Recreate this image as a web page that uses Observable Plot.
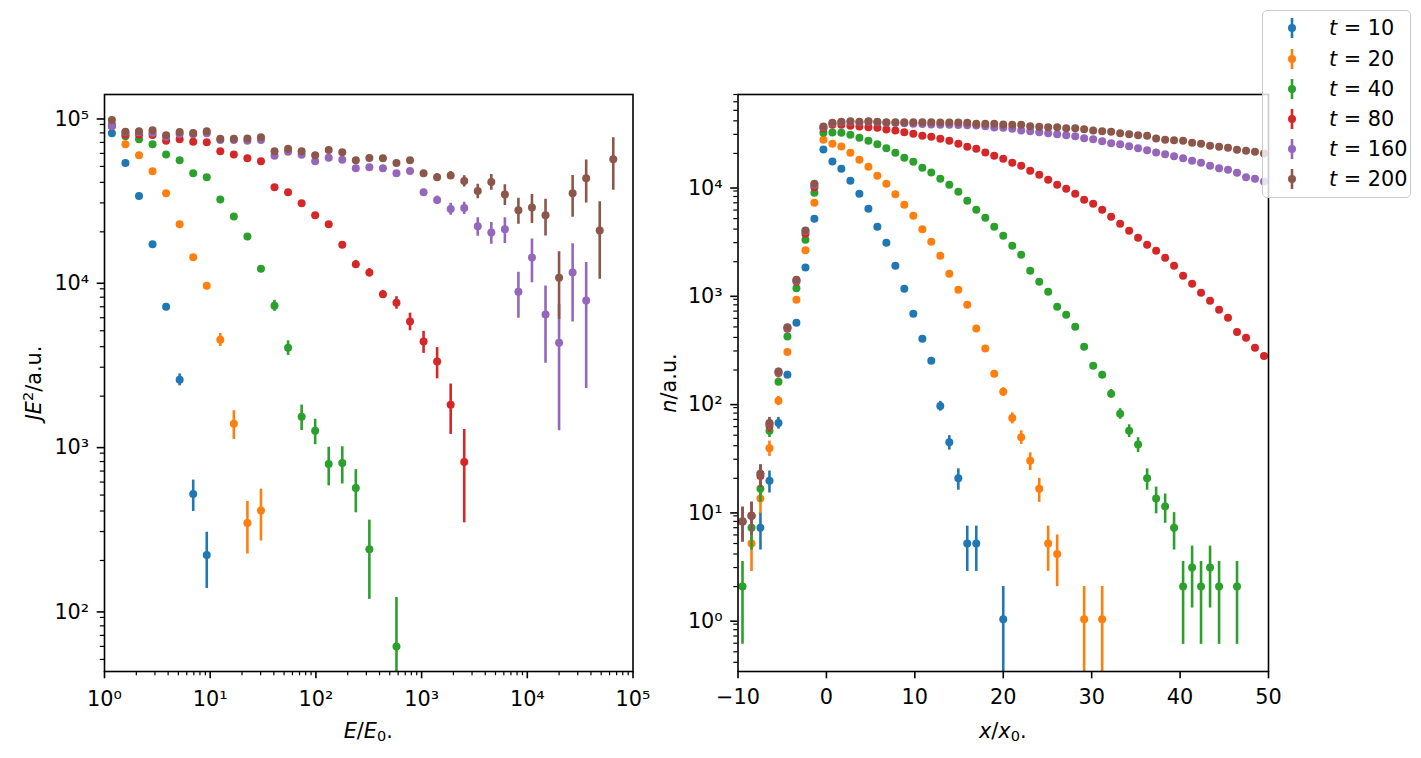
<!DOCTYPE html>
<html><head><meta charset="utf-8">
<script src="https://cdn.jsdelivr.net/npm/d3@7"></script>
<script src="https://cdn.jsdelivr.net/npm/@observablehq/plot@0.6"></script>
<style>
body{margin:0;background:#fff;}
#fig{position:relative;width:1421px;height:758px;font-family:"DejaVu Sans",sans-serif;color:#000;overflow:hidden;background:#fff;}
#fig svg.panel{position:absolute;top:0;}
.lab{position:absolute;font-size:20.8px;white-space:nowrap;line-height:1;transform:translate(-50%,-50%);}
.lab.rot{transform:translate(-50%,-50%) rotate(-90deg);}
.lab sup{font-size:0.7em;vertical-align:0.5em;line-height:0;}
.lab sub{font-size:0.7em;vertical-align:-0.25em;line-height:0;}
.legend{position:absolute;left:1262px;top:10px;width:149px;height:188px;box-sizing:border-box;border:1.4px solid #cccccc;border-radius:5px;background:rgba(255,255,255,0.8);}
.legrow{position:absolute;left:0;height:30px;display:flex;align-items:center;font-size:20.8px;white-space:nowrap;}
.legrow svg{position:absolute;left:19px;top:4px;}
.legrow span{position:absolute;left:66px;}
</style></head>
<body><div id="fig"></div>
<script>
// ---------- series ----------
const times = [10, 20, 40, 80, 160, 200];
const colors = ["#1f77b4", "#ff7f0e", "#2ca02c", "#d62728", "#9467bd", "#8c564b"];

// ---------- left panel: J E^2 vs E/E0 (log bins) ----------
const E = [1.175, 1.578, 2.121, 2.848, 3.826, 5.14, 6.906, 9.278, 12.46, 16.74, 22.49, 30.22, 40.6, 54.54, 73.27, 98.4, 132.2, 177.6, 238.6, 320.5, 430.5, 578.4, 777, 1044, 1402, 1884, 2531, 3400, 4567, 6136, 8241, 11070, 14875, 19980, 26840, 36060, 48440, 65070];

const jeT10 = [79600, 52400, 33000, 16800, 7010, 2520, 507, 216];
const errT10 = [2400, 1600, 1000, 500, 210, 210, 110, 81];

const jeT20 = [88100, 68200, 58400, 46700, 34300, 22200, 14000, 9410, 4410, 1360, 338, 403];
const errT20 = [2600, 2000, 1750, 1400, 1000, 670, 420, 330, 400, 270, 119, 140];

const jeT40 = [90000, 76300, 73100, 68200, 59200, 54500, 45400, 42900, 31500, 24800, 18700, 11900, 7110, 3940, 1500, 1230, 773, 784, 552, 234, null, 60];
const errT40 = [2700, 2300, 2200, 2000, 1800, 1600, 1400, 1300, 950, 750, 560, 450, 550, 400, 265, 217, 204, 200, 162, 118, null, 59];

const jeT80 = [88000, 78000, 78000, 77600, 71700, 73100, 70600, 70100, 61800, 59200, 56000, 53700, 37300, 34800, 29800, 25200, 22200, 16700, 12700, 11300, 8330, 7410, 5700, 4300, 3250, 1770, 796];
const errT80 = [2600, 2300, 2300, 2300, 2150, 2200, 2100, 2100, 1850, 1800, 1700, 1600, 1100, 1050, 900, 760, 670, 600, 700, 650, 480, 650, 700, 660, 700, 600, 457];

const jeT160 = [88000, 80700, 80700, 80200, 75800, 78800, 78400, 79600, 72400, 72400, 71700, 72400, 58100, 61400, 58900, 53700, 56500, 54900, 48700, 49400, 48700, 45400, 46900, 34800, 31200, 27500, 27900, 21600, 19800, 20700, 8650, 13950, 6270, 4230, 11300, 7630];
const errT160 = [2600, 2400, 2400, 2400, 2300, 2400, 2350, 2400, 2200, 2200, 2150, 2200, 1750, 1850, 1800, 1600, 1700, 1650, 1500, 1500, 1500, 1400, 1450, 1500, 1800, 2300, 2400, 2800, 3000, 3700, 2700, 4150, 3100, 3000, 5640, 5400];

const jeT200 = [95900, 81400, 81800, 83000, 77300, 81000, 79900, 81800, 73800, 73600, 74000, 75200, 61800, 64100, 61800, 58400, 62900, 60900, 54500, 56200, 56000, 52400, 54500, 45400, 42900, 44100, 40700, 35400, 40200, 33800, 27100, 28100, 25200, 10500, 34300, 42300, 20400, 55200];
const errT200 = [2900, 2400, 2450, 2500, 2300, 2400, 2400, 2450, 2200, 2200, 2200, 2250, 1850, 1900, 1850, 1750, 1900, 1800, 1650, 1700, 1700, 1600, 1650, 1500, 2400, 2400, 3200, 3600, 4400, 4900, 4900, 5650, 6330, 4650, 9800, 12400, 10100, 19450];

// ---------- right panel: n vs x/x0 (counts, Poisson errors) ----------
const X = [-9.49, -8.47, -7.46, -6.44, -5.42, -4.41, -3.39, -2.37, -1.36, -0.34, 0.68, 1.69, 2.71, 3.73, 4.75, 5.76, 6.78, 7.80, 8.81, 9.83, 10.85, 11.86, 12.88, 13.90, 14.92, 15.93, 16.95, 17.97, 18.98, 20.00, 21.02, 22.03, 23.05, 24.07, 25.08, 26.10, 27.12, 28.14, 29.15, 30.17, 31.19, 32.20, 33.22, 34.24, 35.25, 36.27, 37.29, 38.31, 39.32, 40.34, 41.36, 42.37, 43.39, 44.41, 45.42, 46.44, 47.46, 48.47, 49.49];

const nT10 = [null, null, 7, 19, 65, 181, 546, 1768, 4980, 21730, 16840, 14410, 11170, 8470, 6160, 4200, 2990, 1834, 1124, 660, 388, 243, 93, 43, 20, 5, 5, null, null, 1];
const nT20 = [null, 5, 13, 38, 104, 294, 889, 2554, 7000, 26700, 24530, 23150, 20260, 17450, 15040, 12420, 10480, 8400, 6705, 5306, 3991, 3053, 2268, 1546, 1100, 800, 483, 316, 185, 126, 72, 48, 29, 16, 5, 4, null, null, 1, null, 1];
const nT40 = [2, 7, 16, 55, 156, 408, 1138, 3186, 8655, 31000, 31200, 31000, 29700, 27860, 26150, 24320, 22340, 20260, 18210, 16730, 14730, 13330, 11660, 10260, 8838, 7300, 6029, 5086, 4200, 3469, 2804, 2316, 1648, 1305, 1055, 767, 647, 501, 328, 219, 181, 121, 79, 55, 41, 20, 13, 11, 7, 2, 3, 2, 3, 2, null, 2];
const nT80 = [8, 9, 21, 61, 188, 480, 1310, 3620, 9750, 34200, 36700, 36700, 36000, 35400, 34900, 34450, 33240, 32540, 31390, 30340, 29080, 28470, 27280, 26150, 24530, 23010, 22050, 20390, 19010, 17830, 16380, 15370, 13810, 12690, 11410, 10260, 9422, 8472, 7458, 6849, 6029, 5196, 4477, 3858, 3324, 2865, 2521, 2173, 1834, 1482, 1250, 1033, 871, 719, 607, 450, 397, 321, 270];
const nT160 = [8, 9, 22, 64, 192, 490, 1340, 3850, 10300, 35000, 38000, 38800, 39200, 38900, 39200, 38700, 38300, 38100, 37900, 37600, 37300, 37000, 36800, 36700, 36600, 36400, 36200, 35650, 34700, 34450, 33730, 32540, 32060, 31390, 30730, 30090, 29440, 28840, 27630, 27050, 25930, 24850, 24320, 23310, 22340, 21410, 20390, 19670, 18850, 18060, 17090, 16380, 15370, 14600, 14110, 13240, 12060, 11660, 11000];
const nT200 = [8, 9, 22, 65, 194, 497, 1361, 3882, 10480, 35400, 38340, 39150, 39630, 39150, 39630, 39150, 38900, 38750, 38820, 38700, 38850, 38780, 38580, 38580, 38580, 38340, 37500, 37500, 37500, 36980, 36730, 36730, 35650, 35200, 34910, 34910, 34200, 34200, 33460, 32540, 32060, 31650, 30730, 30090, 29440, 29080, 27460, 26710, 26480, 26150, 25060, 24530, 23510, 23010, 22530, 21600, 21140, 20690, 19960];

// ---------- tick labels ----------
const leftXTicks = [1, 10, 100, 1000, 10000, 100000];
const leftYTicks = [100, 1000, 10000, 100000];
const rightXTicks = [-10, 0, 10, 20, 30, 40, 50];
const rightYTicks = [1, 10, 100, 1000, 10000];
const supDigits = {"0": "⁰", "1": "¹", "2": "²", "3": "³", "4": "⁴", "5": "⁵"};

const leftVals = [jeT10, jeT20, jeT40, jeT80, jeT160, jeT200];
const leftErrs = [errT10, errT20, errT40, errT80, errT160, errT200];
const rightVals = [nT10, nT20, nT40, nT80, nT160, nT200];

const pow10 = d => "10" + supDigits[String(Math.round(Math.log10(d)))];
const minus = d => d < 0 ? "\u2212" + Math.abs(d) : String(d);
function logMinors(lo, hi) {
  const out = [];
  for (let e = Math.floor(Math.log10(lo)); e <= Math.ceil(Math.log10(hi)); e++)
    for (let m = 2; m <= 9; m++) { const v = m * Math.pow(10, e); if (v >= lo && v <= hi) out.push(v); }
  return out;
}

const FS = 20.8, TICK = 7.3, MINOR = 4.2;
const fig = document.getElementById("fig");
const style = {fontFamily: "DejaVu Sans", fontSize: FS + "px", color: "black", background: "transparent", overflow: "visible"};

function seriesMarks(xs, vals, errs) {
  const marks = [];
  vals.forEach((v, i) => {
    const rows = [];
    v.forEach((y, k) => { if (y != null) rows.push({x: xs[k], y, e: errs ? errs[i][k] : Math.sqrt(y)}); });
    marks.push(Plot.ruleX(rows, {x: "x", y1: d => Math.max(d.y - d.e, 1e-3), y2: d => d.y + d.e, stroke: colors[i], strokeWidth: 2.6, clip: true}));
    marks.push(Plot.dot(rows, {x: "x", y: "y", r: 4, fill: colors[i], stroke: "none", clip: true}));
  });
  return marks;
}

// ---- Left panel ----
const L = {w: 660, left: 104, right: 632.5, top: 94, bottom: 671};
const leftYDomain = [42.2, 137000];
const leftPlot = Plot.plot({
  width: L.w, height: 758,
  marginLeft: L.left, marginRight: L.w - L.right, marginTop: L.top, marginBottom: 758 - L.bottom,
  style,
  x: {type: "log", domain: [1, 1e5], axis: null},
  y: {type: "log", domain: leftYDomain, axis: null},
  marks: [
    ...seriesMarks(E, leftVals, leftErrs),
    Plot.axisX(logMinors(1, 1e5), {anchor: "bottom", tickSize: MINOR, strokeWidth: 1.2, tickFormat: () => "", label: null}),
    Plot.axisX(leftXTicks, {anchor: "bottom", tickSize: TICK, strokeWidth: 1.6, tickPadding: 12.9, tickFormat: pow10, fontSize: FS, label: null}),
    Plot.axisY(logMinors(leftYDomain[0], leftYDomain[1]), {anchor: "left", tickSize: MINOR, strokeWidth: 1.2, tickFormat: () => "", label: null}),
    Plot.axisY(leftYTicks, {anchor: "left", tickSize: TICK, strokeWidth: 1.6, tickPadding: 8, dy: 2, tickFormat: pow10, fontSize: FS, label: null}),
    Plot.frame({stroke: "black", strokeWidth: 1.6})
  ]
});
leftPlot.classList.add("panel");
leftPlot.style.left = "0px";
fig.appendChild(leftPlot);

// ---- Right panel ----
const R = {x0: 680, w: 620, left: 737.5, right: 1268, top: 94, bottom: 671};
const rightYDomain = [0.329, 70000];
const rightPlot = Plot.plot({
  width: R.w, height: 758,
  marginLeft: R.left - R.x0, marginRight: R.x0 + R.w - R.right, marginTop: R.top, marginBottom: 758 - R.bottom,
  style,
  x: {type: "linear", domain: [-10, 50], axis: null},
  y: {type: "log", domain: rightYDomain, axis: null},
  marks: [
    ...seriesMarks(X, rightVals, null),
    Plot.axisX(rightXTicks, {anchor: "bottom", tickSize: TICK, strokeWidth: 1.6, tickPadding: 10.2, tickFormat: minus, fontSize: FS, label: null}),
    Plot.axisY(logMinors(rightYDomain[0], rightYDomain[1]), {anchor: "left", tickSize: MINOR, strokeWidth: 1.2, tickFormat: () => "", label: null}),
    Plot.axisY(rightYTicks, {anchor: "left", tickSize: TICK, strokeWidth: 1.6, tickPadding: 8, dy: 2, tickFormat: pow10, fontSize: FS, label: null}),
    Plot.frame({stroke: "black", strokeWidth: 1.6})
  ]
});
rightPlot.classList.add("panel");
rightPlot.style.left = R.x0 + "px";
fig.appendChild(rightPlot);

// ---- Axis labels ----
function addLabel(html, x, y, rot) {
  const d = document.createElement("div");
  d.className = "lab" + (rot ? " rot" : "");
  d.style.left = x + "px"; d.style.top = y + "px";
  d.innerHTML = html;
  fig.appendChild(d);
}
addLabel("<i>JE</i><sup>2</sup>/a.u.", 34, (L.top + L.bottom) / 2, true);
addLabel("<i>E</i>/<i>E</i><sub>0</sub>.", (L.left + L.right) / 2, 731, false);
addLabel("<i>n</i>/a.u.", 669, (R.top + R.bottom) / 2, true);
addLabel("<i>x</i>/<i>x</i><sub>0</sub>.", (R.left + R.right) / 2, 731, false);

// ---- Legend ----
const leg = document.createElement("div");
leg.className = "legend";
times.forEach((t, i) => {
  const row = document.createElement("div");
  row.className = "legrow";
  row.style.top = (17.3 + 30.2 * i - 15) + "px";
  row.innerHTML = `<svg width="20" height="22"><line x1="10" x2="10" y1="1" y2="21" stroke="${colors[i]}" stroke-width="2.6"/><circle cx="10" cy="11" r="4" fill="${colors[i]}"/></svg><span><i>t</i> = ${t}</span>`;
  leg.appendChild(row);
});
fig.appendChild(leg);
</script>
</body></html>
